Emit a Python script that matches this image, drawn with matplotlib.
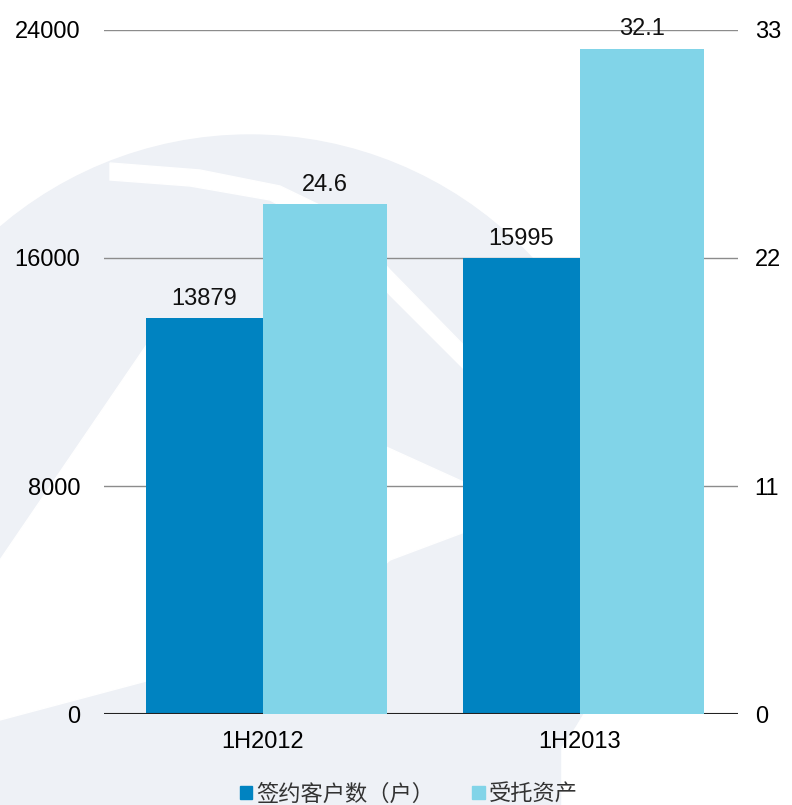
import numpy as np
import matplotlib.pyplot as plt
from matplotlib.patches import Circle, Polygon, Rectangle
from matplotlib.transforms import Affine2D

plt.rcParams['font.family'] = ['Liberation Sans', 'Noto Sans CJK SC', 'DejaVu Sans']

# data
categories = ['1H2012', '1H2013']
customers = [13879, 15995]          # 签约客户数（户） left axis
assets = [24.6, 32.1]               # 受托资产 right axis
customer_labels = ['13879', '15995']
asset_labels = ['24.6', '32.1']
left_ticks = [0, 8000, 16000, 24000]
right_ticks = [0, 11, 22, 33]
legend_names = ['签约客户数（户）', '受托资产']

dark = '#0083C1'
light = '#81D4E8'

W, H = 792, 805
fig = plt.figure(figsize=(W / 100, H / 100), dpi=100)
# pixel coords (y down) -> figure
px = Affine2D().scale(1 / W, -1 / H).translate(0, 1) + fig.transFigure

# faint watermark in the background
wm = '#EEF1F6'
fig.patches.append(Circle((250, 520), 385, transform=px, color=wm, zorder=-5))
fig.patches.append(Polygon([(0, 700), (0, 805), (560, 805), (560, 640)], closed=True,
                           transform=px, color=wm, zorder=-5))
band_top = [(110, 163), (200, 170), (280, 186), (340, 215), (390, 270), (480, 362), (560, 450)]
band_bot = [(560, 475), (480, 385), (390, 295), (335, 235), (270, 200), (190, 186), (110, 180)]
fig.patches.append(Polygon(band_top + band_bot, closed=True, transform=px,
                           color='white', zorder=-4))
fig.patches.append(Polygon([(0, 560), (150, 340), (470, 485), (470, 530), (390, 560),
                            (300, 640), (0, 720)], closed=True, transform=px,
                           color='white', zorder=-4))

ax = fig.add_axes([104 / W, (H - 714) / H, (738 - 104) / W, (714 - 30) / H])
ax.patch.set_alpha(0)
ax2 = ax.twinx()
ax2.patch.set_alpha(0)

x = np.arange(len(categories))
wd = 0.366
wl = 0.394
ax.bar(x, customers, width=-wd, align='edge', color=dark, zorder=3)
ax2.bar(x, assets, width=wl, align='edge', color=light, zorder=3)

ax.set_xlim(-0.5, 1.5)
ax.set_ylim(0, 24000)
ax2.set_ylim(0, 33)

for v in left_ticks[1:]:
    ax.axhline(v, color='#8C8C8C', lw=1, zorder=1)
ax.axhline(0, color='#222222', lw=1.5, zorder=4)

for xi, v, s in zip(x, customers, customer_labels):
    ax.annotate(s, (xi - wd / 2, v), xytext=(0, 6), textcoords='offset points',
                ha='center', va='bottom', fontsize=17, color='#111111')
for xi, v, s in zip(x, assets, asset_labels):
    ax2.annotate(s, (xi + wl / 2, v), xytext=(0, 6), textcoords='offset points',
                 ha='center', va='bottom', fontsize=17, color='#111111')

ax.set_yticks(left_ticks)
ax.set_yticklabels([str(t) for t in left_ticks], fontsize=17)
ax2.set_yticks(right_ticks)
ax2.set_yticklabels([str(t) for t in right_ticks], fontsize=17)
ax.set_xticks(x)
ax.set_xticklabels(categories, fontsize=17)
ax.tick_params(axis='y', length=0, pad=17)
ax2.tick_params(axis='y', length=0, pad=12)
ax.tick_params(axis='x', length=0, pad=12)

for a in (ax, ax2):
    for sp in a.spines.values():
        sp.set_visible(False)

handles = [Rectangle((0, 0), 1, 1, color=dark), Rectangle((0, 0), 1, 1, color=light)]
leg = fig.legend(handles, legend_names, loc='center', bbox_to_anchor=(409 / W, (H - 794) / H),
                 ncol=2, frameon=False, handlelength=0.55, handleheight=0.55, handletextpad=0.2,
                 columnspacing=1.7,
                 prop={'family': ['Noto Sans CJK SC', 'DejaVu Sans'], 'size': 16})
for t in leg.get_texts():
    t.set_color('#333333')

fig.savefig('out.png', dpi=100)
